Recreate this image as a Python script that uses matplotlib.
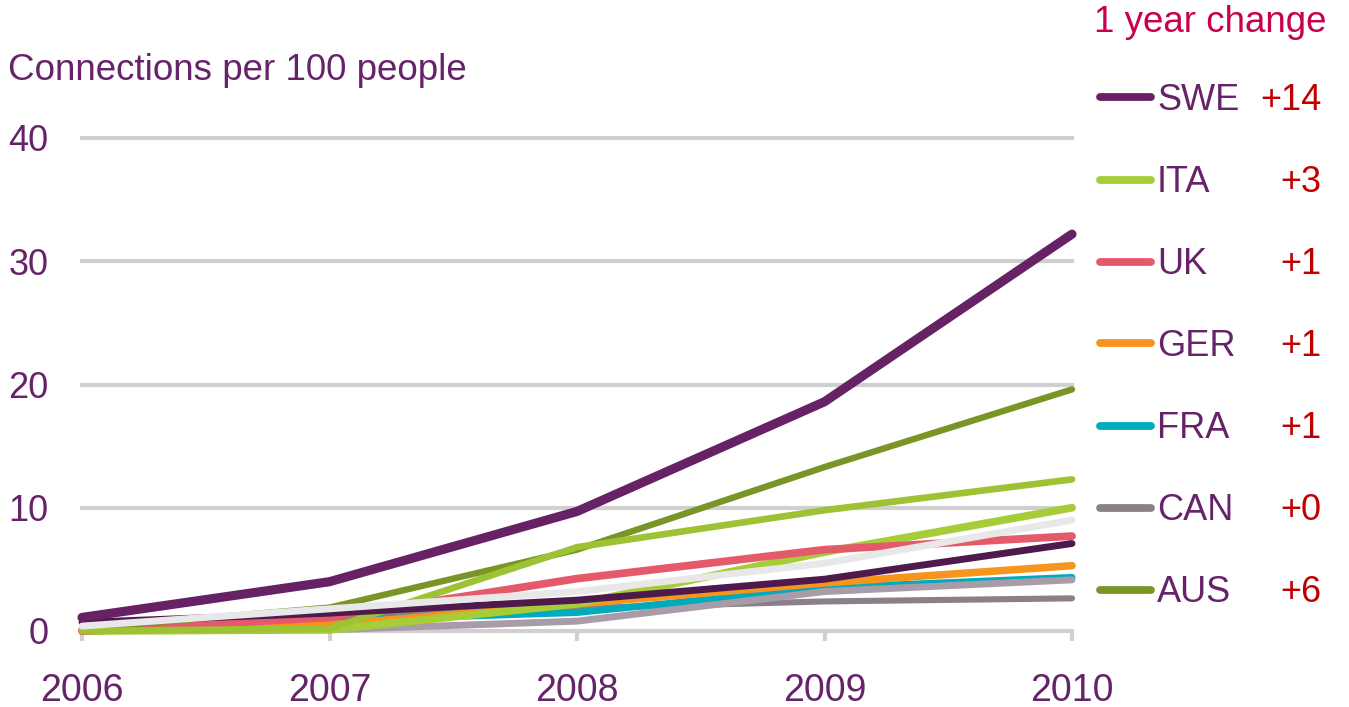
import matplotlib
matplotlib.use("Agg")
import matplotlib.pyplot as plt
from matplotlib.lines import Line2D
import matplotlib.transforms as mtransforms

plt.rcParams['font.family'] = ['Liberation Sans', 'DejaVu Sans']

years = [2006, 2007, 2008, 2009, 2010]
year_labels = ['2006', '2007', '2008', '2009', '2010']
y_ticks = [0, 10, 20, 30, 40]

swe = [1.1, 4.0, 9.7, 18.6, 32.2]
aus = [0.2, 1.9, 6.6, 13.3, 19.6]
ita = [0.0, 0.1, 2.2, 6.4, 10.0]
uk = [0.0, 1.1, 4.25, 6.6, 7.7]
ger = [0.0, 0.5, 2.2, 3.9, 5.3]
fra = [0.0, 0.85, 1.5, 3.5, 4.35]
can = [0.2, 1.2, 1.85, 2.4, 2.65]
other_green = [0.0, 0.2, 6.8, 9.8, 12.3]
other_purple = [0.7, 1.45, 2.5, 4.2, 7.1]
other_light = [0.4, 1.8, 3.2, 5.5, 9.0]
other_mauve = [0.1, 0.1, 0.8, 3.2, 4.15]

legend_names = ['SWE', 'ITA', 'UK', 'GER', 'FRA', 'CAN', 'AUS']
legend_changes = ['+14', '+3', '+1', '+1', '+1', '+0', '+6']

PURPLE = '#66236a'
RED = '#c00000'
C = {
    'SWE': '#662264', 'ITA': '#a6cd37', 'UK': '#e55a6a', 'GER': '#f7941e',
    'FRA': '#00abbd', 'CAN': '#8c8088', 'AUS': '#7a9526',
}

W, H = 1349, 707
fig = plt.figure(figsize=(W / 100, H / 100), dpi=100)
ax = fig.add_axes([82 / W, 1 - 631 / H, (1072 - 82) / W, (631 - 138) / H])
ax.set_xlim(2006, 2010)
ax.set_ylim(0, 40)

for s in ax.spines.values():
    s.set_visible(False)
for yv in y_ticks:
    ax.axhline(yv, color='#d0d0d0', lw=3.0, zorder=1, clip_on=False)

series = [
    (can, C['CAN'], 4.4),
    (fra, C['FRA'], 5.0),
    (ger, C['GER'], 5.4),
    (other_mauve, '#a99ca9', 5.0),
    (ita, C['ITA'], 5.6),
    (uk, C['UK'], 5.6),
    (aus, C['AUS'], 4.6),
    (other_green, '#9dc233', 4.8),
    (other_purple, '#4e1a4e', 5.0),
    (other_light, '#e8e8e8', 5.0),
    (swe, C['SWE'], 6.6),
]
for i, (vals, col, lw) in enumerate(series):
    ax.plot(years, vals, color=col, lw=lw, solid_capstyle='round',
            solid_joinstyle='round', zorder=3 + i, clip_on=False)

ax.set_xticks(years)
ax.set_xticklabels(year_labels)
ax.set_yticks(y_ticks)
ax.set_yticklabels([str(v) for v in y_ticks])
ax.tick_params(axis='x', length=7, width=3, color='#d0d0d0', pad=23,
               labelsize=27, labelcolor=PURPLE)
ax.tick_params(axis='y', length=0, pad=24, labelsize=26, labelcolor=PURPLE)
down = mtransforms.ScaledTranslation(0, -4 / 100, fig.dpi_scale_trans)
for lab in ax.get_yticklabels():
    lab.set_verticalalignment('center')
    lab.set_transform(lab.get_transform() + down)

fig.text(8 / W, 1 - 70 / H, 'Connections per 100 people', fontsize=26.5,
         color=PURPLE, ha='left', va='center')
fig.text(1327 / W, 1 - 22 / H, '1 year change', fontsize=26.5,
         color='#c8004e', ha='right', va='center')

row_y = [97, 180, 262, 343, 426, 508, 590]
for name, chg, py in zip(legend_names, legend_changes, row_y):
    yf = 1 - py / H
    yt = 1 - (py + 3) / H
    fig.add_artist(Line2D([1100 / W, 1151 / W], [yf, yf], color=C[name],
                          lw=5.6, solid_capstyle='round',
                          transform=fig.transFigure))
    fig.text(1157 / W, yt, name, fontsize=26, color=PURPLE,
             ha='left', va='center')
    fig.text(1321 / W, yt, chg, fontsize=26, color=RED,
             ha='right', va='center')

fig.savefig('out.png', dpi=100)
